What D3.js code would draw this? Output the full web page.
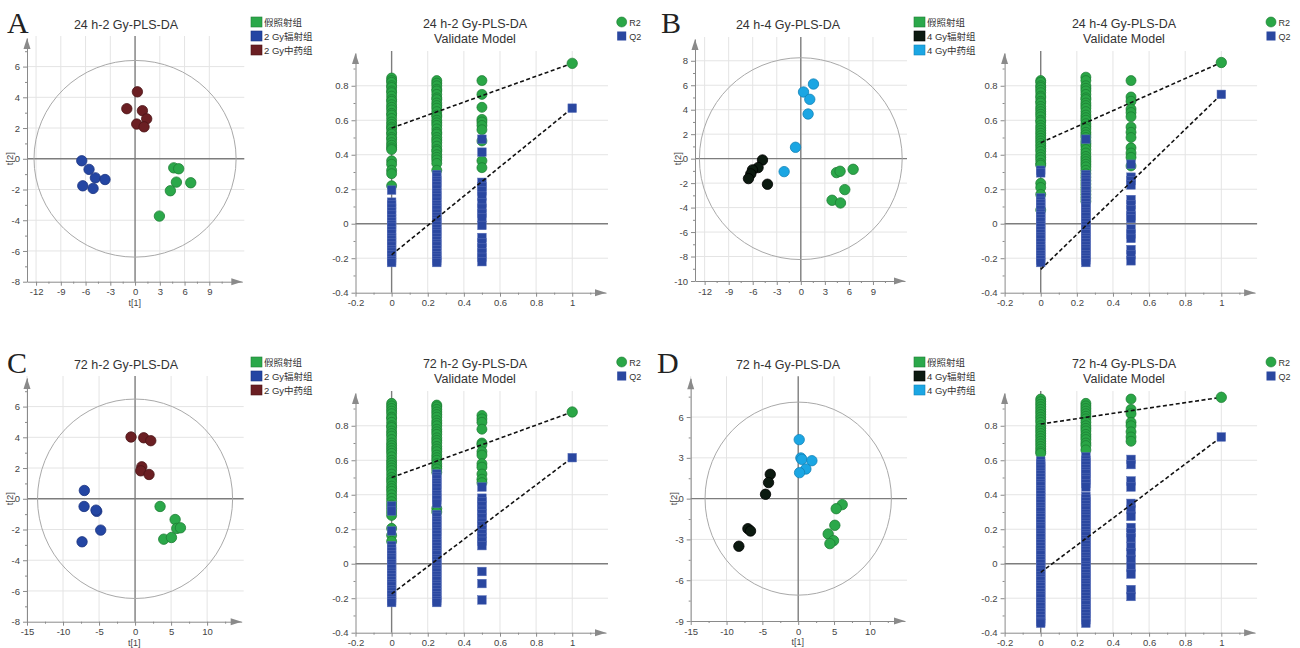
<!DOCTYPE html>
<html><head><meta charset="utf-8">
<script src="https://cdn.jsdelivr.net/npm/d3@7"></script>
<style>
body{margin:0;background:#fff;}
svg{display:block;}
text{font-family:"Liberation Sans",Arial,"Noto Sans CJK SC",sans-serif;}
.letter{font-family:"Liberation Serif","DejaVu Serif",serif;}
</style>
</head><body>
<svg id="c" width="1300" height="648"></svg>
<script>
// ---------------- Score plot data (t[1], t[2]) ----------------
const A_title = "24 h-2 Gy-PLS-DA";
const A_groups = ["假照射组", "2 Gy辐射组", "2 Gy中药组"];
const A_sham = [[4.69,-0.59],[5.29,-0.65],[5.01,-1.52],[6.75,-1.56],[4.28,-2.08],[2.95,-3.73]];
const A_rad  = [[-6.46,-0.13],[-5.58,-0.69],[-4.81,-1.24],[-3.64,-1.35],[-6.34,-1.76],[-5.09,-1.93]];
const A_tcm  = [[0.28,4.36],[-1.0,3.26],[0.89,3.13],[1.41,2.60],[0.2,2.26],[1.09,2.08]];
const A_xTicks = [-12,-9,-6,-3,0,3,6,9];
const A_yTicks = [-8,-6,-4,-2,0,2,4,6];
const A_ellipse = [12.25, 6.4];

const B_title = "24 h-4 Gy-PLS-DA";
const B_groups = ["假照射组", "4 Gy辐射组", "4 Gy中药组"];
const B_sham = [[4.45,-1.14],[4.9,-1.03],[6.53,-0.87],[5.49,-2.53],[3.9,-3.4],[4.95,-3.62]];
const B_rad  = [[-4.78,-0.11],[-5.33,-0.73],[-6.03,-0.92],[-6.24,-1.25],[-6.53,-1.63],[-4.16,-2.09]];
const B_tcm  = [[1.58,6.1],[0.34,5.45],[1.12,4.85],[0.91,3.65],[-0.66,0.93],[-2.08,-1.06]];
const B_xTicks = [-12,-9,-6,-3,0,3,6,9];
const B_yTicks = [-10,-8,-6,-4,-2,0,2,4,6,8];
const B_ellipse = [12.65, 8.25];

const C_title = "72 h-2 Gy-PLS-DA";
const C_groups = ["假照射组", "2 Gy辐射组", "2 Gy中药组"];
const C_sham = [[3.47,-0.5],[5.56,-1.35],[5.79,-1.93],[6.3,-1.89],[3.98,-2.63],[5.05,-2.52]];
const C_rad  = [[-7.04,0.54],[-7.08,-0.5],[-5.32,-0.82],[-5.42,-0.74],[-4.77,-2.04],[-7.36,-2.8]];
const C_tcm  = [[-0.56,4.02],[1.2,3.97],[2.18,3.78],[0.93,2.08],[0.79,1.82],[1.94,1.58]];
const C_xTicks = [-15,-10,-5,0,5,10];
const C_yTicks = [-8,-6,-4,-2,0,2,4,6];
const C_ellipse = [13.54, 6.49];

const D_title = "72 h-4 Gy-PLS-DA";
const D_groups = ["假照射组", "4 Gy辐射组", "4 Gy中药组"];
const D_sham = [[6.14,-0.44],[5.3,-0.74],[5.11,-1.96],[4.18,-2.6],[4.93,-3.09],[4.42,-3.31]];
const D_rad  = [[-3.9,1.79],[-4.14,1.18],[-4.56,0.32],[-7.02,-2.21],[-6.65,-2.38],[-8.28,-3.5]];
const D_tcm  = [[0.14,4.34],[0.37,2.99],[0.51,2.89],[1.91,2.79],[1.07,2.18],[0.19,1.91]];
const D_xTicks = [-15,-10,-5,0,5,10];
const D_yTicks = [-9,-6,-3,0,3,6];
const D_ellipse = [13.0, 7.1];

// ---------------- Permutation (Validate Model) data ----------------
const permX = [0, 0.25, 0.5];
const valXTicks = [-0.2, 0, 0.2, 0.4, 0.6, 0.8, 1];
const valYTicks = [-0.4, -0.2, 0, 0.2, 0.4, 0.6, 0.8];
const valLegend = ["R2", "Q2"];

const A_R2_x0  = [0.845,0.83,0.82,0.80,0.79,0.77,0.76,0.74,0.72,0.71,0.69,0.675,0.66,0.64,0.63,0.61,0.59,0.575,0.56,0.55,0.53,0.52,0.50,0.49,0.47,0.455,0.44,0.43,0.365,0.345,0.31,0.29,0.22];
const A_R2_x25 = [0.83,0.815,0.80,0.78,0.77,0.75,0.73,0.72,0.70,0.685,0.67,0.65,0.63,0.62,0.60,0.585,0.57,0.55,0.53,0.52,0.50,0.485,0.47,0.45,0.43,0.42,0.40,0.385,0.37,0.35,0.31];
const A_R2_x50 = [0.83,0.75,0.675,0.605,0.59,0.57,0.545,0.48,0.365,0.325];
const A_Q2_x0  = [0.195,0.125,0.11,0.09,0.07,0.05,0.03,0.01,-0.005,-0.02,-0.04,-0.06,-0.08,-0.095,-0.11,-0.13,-0.15,-0.165,-0.18,-0.20,-0.215,-0.225];
const A_Q2_x25 = [0.285,0.27,0.25,0.235,0.22,0.20,0.18,0.165,0.15,0.13,0.11,0.095,0.08,0.06,0.04,0.025,0.01,-0.01,-0.03,-0.045,-0.06,-0.08,-0.10,-0.115,-0.13,-0.15,-0.17,-0.185,-0.20,-0.215,-0.225];
const A_Q2_x50 = [0.49,0.415,0.24,0.215,0.19,0.16,0.12,0.09,0.06,0.035,-0.01,-0.08,-0.11,-0.14,-0.17,-0.195,-0.22];
const A_R2_line = [0.555, 0.93];
const A_Q2_line = [-0.18, 0.67];

const B_R2_x0  = [0.83,0.82,0.80,0.79,0.775,0.76,0.74,0.73,0.71,0.70,0.68,0.665,0.65,0.635,0.62,0.60,0.59,0.57,0.555,0.54,0.525,0.51,0.495,0.48,0.465,0.45,0.435,0.42,0.40,0.385,0.37,0.35,0.34,0.235,0.21,0.17,0.08];
const B_R2_x25 = [0.85,0.83,0.80,0.785,0.77,0.75,0.73,0.72,0.70,0.685,0.67,0.65,0.63,0.615,0.60,0.58,0.565,0.55,0.53,0.515,0.50,0.48,0.465,0.45,0.43,0.41,0.39,0.375,0.36,0.345,0.33,0.31,0.29,0.27,0.25,0.23,0.21,0.19,0.17,0.15,0.13];
const B_R2_x50 = [0.83,0.735,0.71,0.665,0.645,0.62,0.56,0.53,0.50,0.44,0.41,0.385,0.335];
const B_Q2_x0  = [0.31,0.295,0.15,0.13,0.115,0.10,0.08,0.06,0.045,0.03,0.01,-0.01,-0.025,-0.04,-0.06,-0.075,-0.09,-0.11,-0.13,-0.145,-0.16,-0.18,-0.195,-0.21,-0.225];
const B_Q2_x25 = [0.49,0.285,0.27,0.255,0.24,0.22,0.205,0.19,0.17,0.155,0.14,0.12,0.105,0.09,0.07,0.055,0.04,0.02,0.005,-0.01,-0.03,-0.045,-0.06,-0.08,-0.095,-0.11,-0.13,-0.145,-0.16,-0.18,-0.195,-0.21,-0.225];
const B_Q2_x50 = [0.345,0.27,0.25,0.225,0.14,0.11,0.08,0.045,0.03,-0.03,-0.06,-0.085,-0.15,-0.18,-0.215];
const B_R2_line = [0.47, 0.935];
const B_Q2_line = [-0.265, 0.75];

const C_R2_x0  = [0.93,0.915,0.90,0.885,0.87,0.85,0.84,0.82,0.80,0.79,0.77,0.755,0.74,0.72,0.70,0.685,0.67,0.655,0.64,0.62,0.60,0.585,0.57,0.555,0.54,0.52,0.50,0.485,0.47,0.45,0.435,0.42,0.40,0.38,0.36,0.34,0.32,0.30,0.28,0.205,0.165,0.13];
const C_R2_x25 = [0.92,0.91,0.895,0.88,0.865,0.85,0.83,0.815,0.80,0.78,0.765,0.75,0.73,0.715,0.70,0.68,0.665,0.65,0.63,0.615,0.60,0.58,0.565,0.55,0.53,0.32,0.30];
const C_R2_x50 = [0.86,0.84,0.82,0.78,0.70,0.69,0.65,0.63,0.58,0.56,0.52,0.49,0.47];
const C_Q2_x0  = [0.335,0.305,0.19,0.105,0.085,0.07,0.05,0.035,0.02,0.0,-0.015,-0.03,-0.05,-0.065,-0.08,-0.10,-0.115,-0.13,-0.15,-0.165,-0.18,-0.20,-0.215,-0.225];
const C_Q2_x25 = [0.52,0.505,0.49,0.47,0.455,0.44,0.42,0.40,0.385,0.37,0.35,0.285,0.27,0.25,0.235,0.22,0.20,0.185,0.17,0.15,0.13,0.115,0.10,0.08,0.065,0.05,0.03,0.015,0.0,-0.02,-0.035,-0.05,-0.07,-0.085,-0.10,-0.12,-0.135,-0.15,-0.17,-0.185,-0.20,-0.215,-0.225];
const C_Q2_x50 = [0.445,0.38,0.36,0.335,0.31,0.29,0.265,0.24,0.22,0.195,0.175,0.15,0.13,0.105,-0.045,-0.115,-0.21];
const C_R2_line = [0.50, 0.88];
const C_Q2_line = [-0.175, 0.615];

const D_R2_x0  = [0.955,0.94,0.925,0.91,0.895,0.88,0.865,0.85,0.835,0.82,0.80,0.785,0.77,0.755,0.74,0.725,0.71,0.695,0.68,0.665,0.65,0.64];
const D_R2_x25 = [0.93,0.915,0.90,0.885,0.87,0.855,0.84,0.82,0.80,0.785,0.77,0.75,0.735,0.72,0.70,0.685,0.66];
const D_R2_x50 = [0.955,0.895,0.87,0.82,0.80,0.765,0.735,0.71];
const D_Q2_x0  = [0.595,0.58,0.565,0.548,0.53,0.515,0.50,0.482,0.465,0.45,0.43,0.415,0.40,0.382,0.365,0.35,0.33,0.315,0.30,0.28,0.265,0.25,0.23,0.215,0.20,0.18,0.165,0.15,0.13,0.115,0.10,0.08,0.065,0.05,0.03,0.015,0.0,-0.02,-0.035,-0.05,-0.07,-0.085,-0.10,-0.12,-0.135,-0.15,-0.17,-0.185,-0.20,-0.22,-0.235,-0.25,-0.27,-0.285,-0.30,-0.32,-0.335,-0.345];
const D_Q2_x25 = [0.62,0.60,0.585,0.57,0.55,0.535,0.52,0.50,0.485,0.465,0.445,0.39,0.375,0.36,0.34,0.325,0.31,0.29,0.275,0.26,0.24,0.225,0.21,0.19,0.175,0.16,0.14,0.125,0.11,0.09,0.075,0.06,0.04,0.025,0.01,-0.01,-0.025,-0.04,-0.06,-0.075,-0.09,-0.11,-0.125,-0.14,-0.16,-0.175,-0.19,-0.21,-0.225,-0.24,-0.26,-0.275,-0.29,-0.31,-0.325,-0.345];
const D_Q2_x50 = [0.605,0.575,0.48,0.445,0.35,0.315,0.275,0.21,0.18,0.15,0.10,0.065,0.025,-0.02,-0.06,-0.15,-0.19];
const D_R2_line = [0.81, 0.965];
const D_Q2_line = [-0.05, 0.735];

// ---------------- colours ----------------
const COL = {
  sham: ["#2ba84a", "#1e7d35"],
  rad2: ["#2446a3", "#1a3480"],
  tcm2: ["#6b1f23", "#4a1417"],
  rad4: ["#0c1a10", "#000000"],
  tcm4: ["#1ba6e3", "#1383b8"],
  r2:   ["#2aa646", "#1a7a30"],
  q2:   ["#2a47a0", "#5a70b8"]
};
const AXC = "#8a8a8a", GRIDC = "#e4e4e4", TXT = "#444";

const svg = d3.select("#c");

function styleAxis(sel) {
  sel.select(".domain").attr("stroke", AXC);
  sel.selectAll(".tick line").attr("stroke", AXC);
  sel.selectAll(".tick text").attr("fill", TXT).style("font-size", "9.5px");
}

function drawAxes(g, x, y, c) {
  const L = c.xRange[0], R = c.xRange[1], B = c.yRange[0], T = c.yRange[1];
  const fmt = d => String(d);
  g.append("g").attr("transform", `translate(0,${B})`)
    .call(d3.axisBottom(x).tickValues(c.xTicks).tickSize(4).tickSizeOuter(0).tickPadding(3).tickFormat(fmt))
    .call(styleAxis);
  g.append("g").attr("transform", `translate(${L},0)`)
    .call(d3.axisLeft(y).tickValues(c.yTicks).tickSize(4).tickSizeOuter(0).tickPadding(3).tickFormat(fmt))
    .call(styleAxis);
  // minor ticks
  g.append("g").attr("transform", `translate(0,${B})`)
    .call(d3.axisBottom(x).tickValues(c.xMinor).tickSize(2).tickSizeOuter(0).tickFormat(""))
    .call(s => { s.select(".domain").remove(); s.selectAll("line").attr("stroke", AXC); });
  g.append("g").attr("transform", `translate(${L},0)`)
    .call(d3.axisLeft(y).tickValues(c.yMinor).tickSize(2).tickSizeOuter(0).tickFormat(""))
    .call(s => { s.select(".domain").remove(); s.selectAll("line").attr("stroke", AXC); });
  // arrows
  g.append("path").attr("d", `M${R},${B} L${R-11},${B-3.5} L${R-11},${B+3.5} Z`).attr("fill", AXC);
  g.append("path").attr("d", `M${L},${T} L${L-3.5},${T+11} L${L+3.5},${T+11} Z`).attr("fill", AXC);
}

function drawGrid(g, x, y, c, xg, yg) {
  const L = c.xRange[0], R = c.xRange[1], B = c.yRange[0], T = c.yRange[1];
  g.selectAll(null).data(xg).enter().append("line")
    .attr("x1", d => x(d)).attr("x2", d => x(d)).attr("y1", T - 2).attr("y2", B)
    .attr("stroke", GRIDC).attr("stroke-width", 1);
  g.selectAll(null).data(yg).enter().append("line")
    .attr("x1", L).attr("x2", R + 2).attr("y1", d => y(d)).attr("y2", d => y(d))
    .attr("stroke", GRIDC).attr("stroke-width", 1);
  // zero lines
  g.append("line").attr("x1", x(0)).attr("x2", x(0)).attr("y1", T - 2).attr("y2", B)
    .attr("stroke", "#7d7d7d").attr("stroke-width", 1.4);
  g.append("line").attr("x1", L).attr("x2", R + 2).attr("y1", y(0)).attr("y2", y(0))
    .attr("stroke", "#7d7d7d").attr("stroke-width", 1.4);
}

function drawScore(c) {
  const g = svg.append("g");
  const x = d3.scaleLinear().domain(c.xDom).range(c.xRange);
  const y = d3.scaleLinear().domain(c.yDom).range(c.yRange);
  drawGrid(g, x, y, c, c.xTicks.filter(d => d !== 0), c.yTicks.filter(d => d !== 0 && d !== c.yTicks[0]));
  g.append("ellipse").attr("cx", x(0)).attr("cy", y(0))
    .attr("rx", x(c.ellipse[0]) - x(0)).attr("ry", y(0) - y(c.ellipse[1]))
    .attr("fill", "none").attr("stroke", "#a9a9a9").attr("stroke-width", 1);
  drawAxes(g, x, y, c);
  c.series.forEach(s => {
    g.selectAll(null).data(s.pts).enter().append("circle")
      .attr("cx", d => x(d[0])).attr("cy", d => y(d[1])).attr("r", 5.2)
      .attr("fill", s.col[0]).attr("stroke", s.col[1]).attr("stroke-width", 0.8);
  });
  // titles & labels
  g.append("text").attr("x", c.titleX).attr("y", c.top + 28.5).attr("text-anchor", "middle")
    .attr("fill", "#333").style("font-size", "12.5px").text(c.title);
  g.append("text").attr("class", "letter").attr("x", c.letterX).attr("y", c.top + 32.5)
    .attr("fill", "#222").style("font-size", "30px").text(c.letter);
  g.append("text").attr("transform", `translate(${c.xRange[0] - 14},${y(0)}) rotate(-90)`)
    .attr("text-anchor", "middle").attr("fill", TXT).style("font-size", "9.5px").text("t[2]");
  if (c.showT1) {
    g.append("text").attr("x", (c.xRange[0] + c.xRange[1]) / 2).attr("y", c.yRange[0] + 24.2)
      .attr("text-anchor", "middle").attr("fill", TXT).style("font-size", "9px").text("t[1]");
  }
  // legend
  c.series.forEach((s, i) => {
    const yy = c.top + 17 + i * 14;
    g.append("rect").attr("x", c.legX).attr("y", yy).attr("width", 11).attr("height", 10)
      .attr("fill", s.col[0]).attr("stroke", s.col[1]).attr("stroke-width", 0.6);
    g.append("text").attr("x", c.legX + 13).attr("y", yy + 8.5).attr("fill", "#333")
      .style("font-size", "9.5px").text(s.name);
  });
}

function drawValidate(c) {
  const g = svg.append("g");
  const x = d3.scaleLinear().domain([-0.2, 1.187]).range(c.xRange);
  const y = d3.scaleLinear().domain([-0.4, 0.99]).range(c.yRange);
  const cfg = Object.assign({}, c, {
    xTicks: valXTicks, yTicks: valYTicks,
    xMinor: [-0.1, 0.1, 0.3, 0.5, 0.7, 0.9, 1.1],
    yMinor: [-0.3, -0.1, 0.1, 0.3, 0.5, 0.7, 0.9]
  });
  drawGrid(g, x, y, cfg, [0.2, 0.4, 0.6, 0.8, 1], [-0.2, 0.2, 0.4, 0.6, 0.8]);
  drawAxes(g, x, y, cfg);
  // permutation R2 circles
  c.r2.forEach((arr, i) => {
    g.selectAll(null).data(arr).enter().append("circle")
      .attr("cx", x(permX[i])).attr("cy", d => y(d)).attr("r", 5)
      .attr("fill", COL.r2[0]).attr("stroke", COL.r2[1]).attr("stroke-width", 0.7);
  });
  // permutation Q2 squares
  const s = 8.6;
  c.q2.forEach((arr, i) => {
    g.selectAll(null).data(arr).enter().append("rect")
      .attr("x", x(permX[i]) - s / 2).attr("y", d => y(d) - s / 2).attr("width", s).attr("height", s)
      .attr("fill", COL.q2[0]).attr("stroke", COL.q2[1]).attr("stroke-width", 0.5);
  });
  // regression lines
  [c.r2Line, c.q2Line].forEach(l => {
    g.append("line").attr("x1", x(0)).attr("y1", y(l[0])).attr("x2", x(1)).attr("y2", y(l[1]))
      .attr("stroke", "#111").attr("stroke-width", 1.6).attr("stroke-dasharray", "4,2.5");
  });
  // original model points
  g.append("circle").attr("cx", x(1)).attr("cy", y(c.r2Line[1])).attr("r", 5.2)
    .attr("fill", COL.r2[0]).attr("stroke", COL.r2[1]).attr("stroke-width", 0.7);
  g.append("rect").attr("x", x(1) - s / 2).attr("y", y(c.q2Line[1]) - s / 2).attr("width", s).attr("height", s)
    .attr("fill", COL.q2[0]).attr("stroke", COL.q2[1]).attr("stroke-width", 0.5);
  // title (two lines)
  g.append("text").attr("x", c.titleX).attr("y", c.top + 28.3).attr("text-anchor", "middle")
    .attr("fill", "#333").style("font-size", "12.5px").text(c.title);
  g.append("text").attr("x", c.titleX).attr("y", c.top + 43).attr("text-anchor", "middle")
    .attr("fill", "#333").style("font-size", "12.5px").text("Validate Model");
  // legend
  g.append("circle").attr("cx", c.legX).attr("cy", c.top + 22).attr("r", 5)
    .attr("fill", COL.r2[0]).attr("stroke", COL.r2[1]).attr("stroke-width", 0.6);
  g.append("rect").attr("x", c.legX - 4.5).attr("y", c.top + 31.5).attr("width", 9).attr("height", 9)
    .attr("fill", COL.q2[0]);
  valLegend.forEach((tx, i) => {
    g.append("text").attr("x", c.legX + 7.5).attr("y", c.top + 25.5 + i * 14).attr("fill", "#333")
      .style("font-size", "9px").text(tx);
  });
}

// ---------------- panels ----------------
drawScore({
  top: 0, letter: "A", letterX: 7, title: A_title, titleX: 126, legX: 251, showT1: true,
  xDom: [-13.1, 13], xRange: [27, 242.3], yDom: [-8, 7.86], yRange: [281.7, 38],
  xTicks: A_xTicks, yTicks: A_yTicks,
  xMinor: [-10.5,-7.5,-4.5,-1.5,1.5,4.5,7.5,10.5], yMinor: [-7,-5,-3,-1,1,3,5,7],
  ellipse: A_ellipse,
  series: [
    { name: A_groups[0], pts: A_sham, col: COL.sham },
    { name: A_groups[1], pts: A_rad, col: COL.rad2 },
    { name: A_groups[2], pts: A_tcm, col: COL.tcm2 }
  ]
});
drawValidate({
  top: 0, title: A_title, titleX: 475, legX: 621.7,
  xRange: [355.5, 606], yRange: [292.7, 53],
  r2: [A_R2_x0, A_R2_x25, A_R2_x50], q2: [A_Q2_x0, A_Q2_x25, A_Q2_x50],
  r2Line: A_R2_line, q2Line: A_Q2_line
});

drawScore({
  top: 0, letter: "B", letterX: 661, title: B_title, titleX: 788, legX: 914, showT1: false,
  xDom: [-13.2, 13.0], xRange: [695, 905], yDom: [-10, 9.78], yRange: [281, 39],
  xTicks: B_xTicks, yTicks: B_yTicks,
  xMinor: [-10.5,-7.5,-4.5,-1.5,1.5,4.5,7.5,10.5], yMinor: [-9,-7,-5,-3,-1,1,3,5,7,9],
  ellipse: B_ellipse,
  series: [
    { name: B_groups[0], pts: B_sham, col: COL.sham },
    { name: B_groups[1], pts: B_rad, col: COL.rad4 },
    { name: B_groups[2], pts: B_tcm, col: COL.tcm4 }
  ]
});
drawValidate({
  top: 0, title: B_title, titleX: 1124, legX: 1271,
  xRange: [1004.6, 1255.1], yRange: [292.7, 53],
  r2: [B_R2_x0, B_R2_x25, B_R2_x50], q2: [B_Q2_x0, B_Q2_x25, B_Q2_x50],
  r2Line: B_R2_line, q2Line: B_Q2_line
});

drawScore({
  top: 340, letter: "C", letterX: 7, title: C_title, titleX: 126, legX: 251, showT1: true,
  xDom: [-15, 14.8], xRange: [27, 241.7], yDom: [-8, 7.86], yRange: [621.7, 378],
  xTicks: C_xTicks, yTicks: C_yTicks,
  xMinor: [-12.5,-7.5,-2.5,2.5,7.5,12.5], yMinor: [-7,-5,-3,-1,1,3,5,7],
  ellipse: C_ellipse,
  series: [
    { name: C_groups[0], pts: C_sham, col: COL.sham },
    { name: C_groups[1], pts: C_rad, col: COL.rad2 },
    { name: C_groups[2], pts: C_tcm, col: COL.tcm2 }
  ]
});
drawValidate({
  top: 340, title: C_title, titleX: 475, legX: 621.7,
  xRange: [355.5, 606], yRange: [632.7, 393],
  r2: [C_R2_x0, C_R2_x25, C_R2_x50], q2: [C_Q2_x0, C_Q2_x25, C_Q2_x50],
  r2Line: C_R2_line, q2Line: C_Q2_line
});

drawScore({
  top: 340, letter: "D", letterX: 657, title: D_title, titleX: 788, legX: 914, showT1: true,
  xDom: [-15, 14.9], xRange: [690.7, 905], yDom: [-9, 8.85], yRange: [621, 378.3],
  xTicks: D_xTicks, yTicks: D_yTicks,
  xMinor: [-12.5,-7.5,-2.5,2.5,7.5,12.5], yMinor: [-7.5,-4.5,-1.5,1.5,4.5,7.5],
  ellipse: D_ellipse,
  series: [
    { name: D_groups[0], pts: D_sham, col: COL.sham },
    { name: D_groups[1], pts: D_rad, col: COL.rad4 },
    { name: D_groups[2], pts: D_tcm, col: COL.tcm4 }
  ]
});
drawValidate({
  top: 340, title: D_title, titleX: 1124, legX: 1271,
  xRange: [1004.6, 1255.1], yRange: [632.7, 393],
  r2: [D_R2_x0, D_R2_x25, D_R2_x50], q2: [D_Q2_x0, D_Q2_x25, D_Q2_x50],
  r2Line: D_R2_line, q2Line: D_Q2_line
});
</script>
</body></html>
